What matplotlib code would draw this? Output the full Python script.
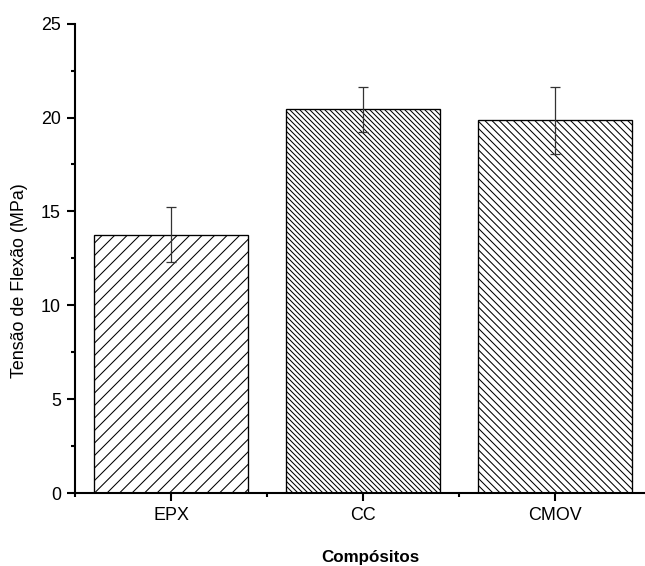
import matplotlib
matplotlib.use("Agg")
import matplotlib.pyplot as plt
import numpy as np

categories = ["EPX", "CC", "CMOV"]
values = [13.77, 20.43, 19.86]
errors = [1.48, 1.20, 1.78]
hatches = ["/" * 8, "\\" * 20, "\\" * 14]
yticks = [0, 5, 10, 15, 20, 25]

DPI = 300
plt.rcParams['font.family'] = ['Liberation Sans', 'DejaVu Sans']
plt.rcParams['hatch.linewidth'] = 0.25

fig = plt.figure(figsize=(645 / DPI, 566 / DPI), dpi=DPI)
ax = fig.add_axes([75 / 645, (566 - 493) / 566, 576 / 645, 469.3 / 566])

x = np.arange(len(categories))
for xi, v, h in zip(x, values, hatches):
    ax.bar(xi, v, width=0.8, facecolor='white', edgecolor='black',
           linewidth=0.32, hatch=h, zorder=2)
ax.errorbar(x, values, yerr=errors, fmt='none', ecolor='#333333',
            elinewidth=0.3, capsize=1.2, capthick=0.3, zorder=3)

ax.set_xlim(-0.5, 2.5)
ax.set_ylim(0, 25)
ax.set_xticks(x)
ax.set_xticklabels(categories)
ax.set_xticks([-0.5, 0.5, 1.5, 2.5], minor=True)
ax.set_yticks(yticks)
ax.set_yticks(np.arange(2.5, 25, 5), minor=True)

for s in ['top', 'right']:
    ax.spines[s].set_visible(False)
for s in ['left', 'bottom']:
    ax.spines[s].set_linewidth(0.5)

ax.tick_params(which='major', direction='out', length=1.9, width=0.5,
               labelsize=4.3, pad=1.5)
ax.tick_params(which='minor', direction='out', length=1.0, width=0.5)

ax.set_ylabel("Tensão de Flexão (MPa)", fontsize=4.3)
ax.yaxis.set_label_coords(-0.082, 0.452)
ax.set_xlabel("Compósitos", fontsize=4.1, fontweight='bold')
ax.xaxis.set_label_coords(0.512, -0.122)

fig.savefig("out.png", dpi=DPI)
